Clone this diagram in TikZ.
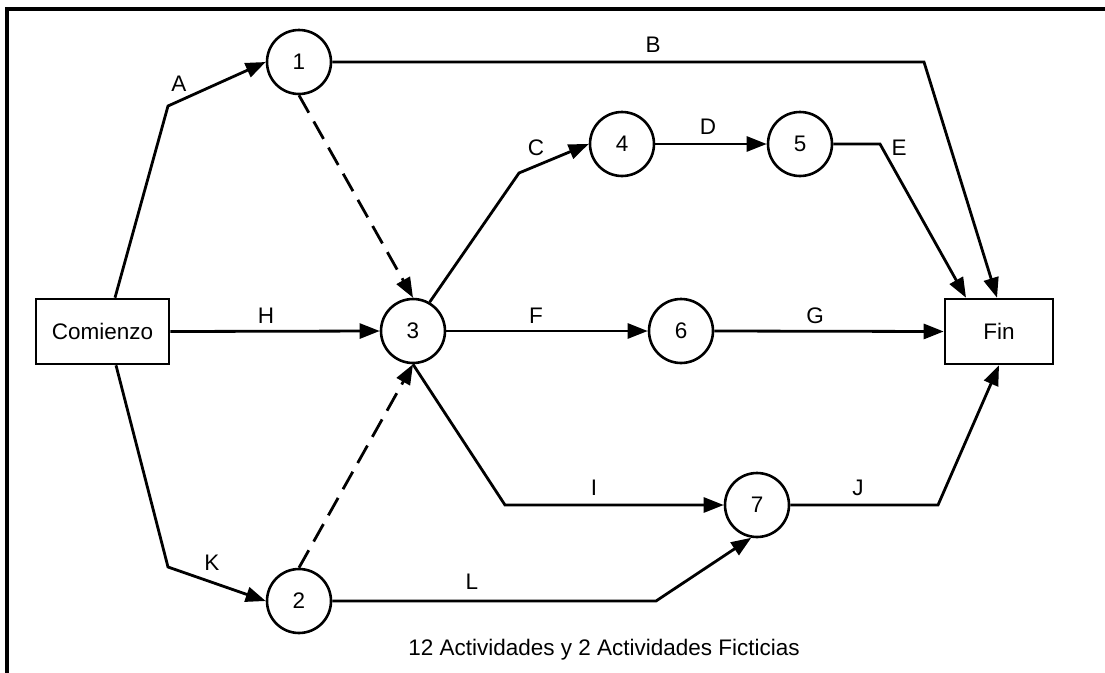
\documentclass[tikz,border=0pt]{standalone}
\usepackage{fontspec}
\setmainfont{Liberation Sans}
\usetikzlibrary{arrows.meta}
\tikzset{
  evt/.style={circle,draw,line width=2.6pt,minimum size=64pt,inner sep=0pt,font=\fontsize{22.5}{26}\selectfont},
  endbox/.style={rectangle,draw,line width=2.6pt,minimum height=65pt,inner sep=0pt,font=\fontsize{22.5}{26}\selectfont},
  act/.style={line width=2.8pt,-{Triangle[length=20pt,width=15pt]}},
  dummy/.style={act,dash pattern=on 20pt off 10pt},
  lbl/.style={inner sep=0pt,font=\fontsize{22.5}{26}\selectfont},
}
\begin{document}
\begin{tikzpicture}[x=1pt,y=-1pt,line join=miter]
\useasboundingbox (0,0) rectangle (1105,672);
\draw[line width=3.2pt] (7,675) -- (7,9) -- (1105,9);
% nodes
\node[endbox,minimum width=133pt] (com) at (102.5,331.5) {Comienzo};
\node[endbox,minimum width=108pt] (fin) at (999,331.5) {Fin};
\node[evt] (n1) at (299,62) {1};
\node[evt] (n2) at (299,601) {2};
\node[evt] (n3) at (413,331) {3};
\node[evt] (n4) at (622,144) {4};
\node[evt] (n5) at (800,144) {5};
\node[evt] (n6) at (681,331) {6};
\node[evt] (n7) at (757,505) {7};
% bends
\coordinate (bA) at (168,106);
\coordinate (bB) at (924,62);
\coordinate (bC) at (519,173);
\coordinate (bE) at (880,144);
\coordinate (bI) at (505,505);
\coordinate (bJ) at (938,505);
\coordinate (bK) at (168,567);
\coordinate (bL) at (656,601);
% edges
\draw[act] ([xshift=12.5pt]com.north) -- (bA) -- (n1.west);
\draw[act] (n1.east) -- (bB) -- ([xshift=-2pt]fin.north);
\draw[dummy] (n1.south) -- (n3.north);
\draw[act] (n3.60) -- (bC) -- (n4.west);
\draw[act] (n4.east) -- (n5.west);
\draw[act] (n5.east) -- (bE) -- ([xshift=-33pt]fin.north);
\draw[act] (com.east) -- (n3.west);
\draw[act] (n3.east) -- (n6.west);
\draw[act] (n6.east) -- (fin.west);
\draw[act] (n3.south) -- (bI) -- (n7.west);
\draw[act] (n7.east) -- (bJ) -- (fin.south);
\draw[act] ([xshift=13.5pt]com.south) -- (bK) -- (n2.west);
\draw[dummy] (n2.north) -- (n3.south);
\draw[act] (n2.east) -- (bL) -- (n7.-100);
% labels
\node[lbl] (lA) at (179,84) {A};
\node[lbl] (lB) at (653,45) {B};
\node[lbl] (lC) at (536,148) {C};
\node[lbl] (lD) at (708,127) {D};
\node[lbl] (lE) at (899,148) {E};
\node[lbl] (lH) at (266,316) {H};
\node[lbl] (lF) at (536,316) {F};
\node[lbl] (lG) at (815,316) {G};
\node[lbl] (lI) at (594,488) {I};
\node[lbl] (lJ) at (858,488) {J};
\node[lbl] (lK) at (212,563) {K};
\node[lbl] (lL) at (472,582) {L};
\node[lbl,anchor=base] (cap) at (604,655) {12 Actividades y 2 Actividades Ficticias};
\end{tikzpicture}
\end{document}
